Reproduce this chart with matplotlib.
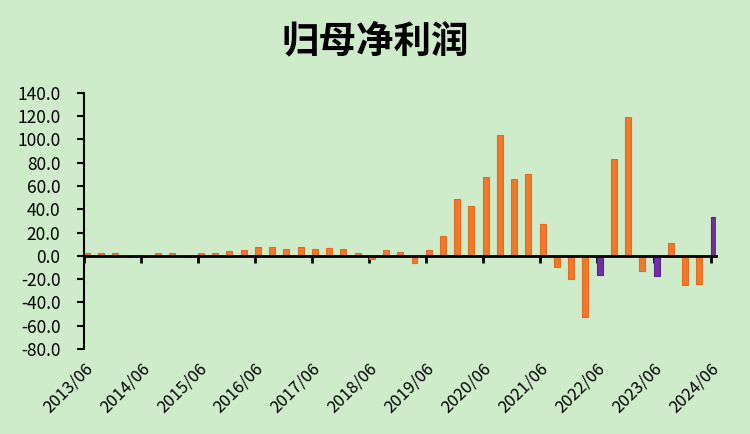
import matplotlib
matplotlib.use("Agg")
import matplotlib.pyplot as plt
import numpy as np

plt.rcParams['font.family'] = ['Noto Sans CJK SC', 'DejaVu Sans']

# quarterly periods 2013/06 .. 2024/06
periods = [f"{y}/{m:02d}" for y in range(2013, 2025) for m in (3, 6, 9, 12)][1:46]
values = [2.0, 2.0, 2.0, -1.0, -1.0, 2.0, 2.0, -1.0, 2.0, 2.5, 4.0, 5.0,
          8.0, 8.0, 6.0, 8.0, 6.0, 7.0, 6.0, 2.0, -3.0, 5.0, 3.0, -6.5,
          5.0, 17.0, 48.7, 42.4, 67.3, 103.4, 65.6, 70.7, 27.0, -9.4, -19.7, -52.9,
          -16.3, 82.8, 118.9, -12.9, -17.2, 10.6, -25.4, -24.6, 33.0]
highlight = {"2022/06", "2023/06", "2024/06"}
tick_labels = [p for p in periods if p.endswith("/06")]

bg = '#CEECCA'
orange, orange_edge = '#F07A2A', '#E36A1E'
purple, purple_edge = '#7030A0', '#5E2290'

fig = plt.figure(figsize=(7.5, 4.34), dpi=100, facecolor=bg)
ax = fig.add_axes([0.112, 0.196, 0.842, 0.59], facecolor=bg)

x = np.arange(len(periods))
colors = [purple if p in highlight else orange for p in periods]
edges = [purple_edge if p in highlight else orange_edge for p in periods]
ax.bar(x + 0.2, values, width=0.42, color=colors, edgecolor=edges, linewidth=0.8, zorder=2)

ax.set_xlim(0, 44.33)
ax.set_ylim(-80, 140)
ax.set_yticks(np.arange(-80, 141, 20))
ax.set_yticklabels([f"{v:.1f}" for v in np.arange(-80, 141, 20)], fontsize=12.5)
ax.tick_params(axis='y', length=5, width=1.5, direction='out', pad=12)

for s in ('top', 'right'):
    ax.spines[s].set_visible(False)
ax.spines['left'].set_linewidth(1.5)
ax.spines['bottom'].set_position(('data', 0))
ax.spines['bottom'].set_linewidth(2)
ax.spines['bottom'].set_zorder(3)

tick_pos = [periods.index(p) for p in tick_labels]
ax.set_xticks(tick_pos)
ax.set_xticklabels([])
ax.tick_params(axis='x', length=5, width=2, direction='out')

sec = ax.secondary_xaxis(0.0)
sec.set_xticks(tick_pos)
sec.set_xticklabels(tick_labels, rotation=45, ha='right', rotation_mode='anchor', fontsize=12)
sec.tick_params(length=0, pad=8)
sec.spines['bottom'].set_visible(False)

fig.text(0.5, 0.905, "归母净利润", ha='center', va='center', fontsize=27, fontweight='bold')

fig.savefig("out.png", dpi=100, facecolor=bg)
